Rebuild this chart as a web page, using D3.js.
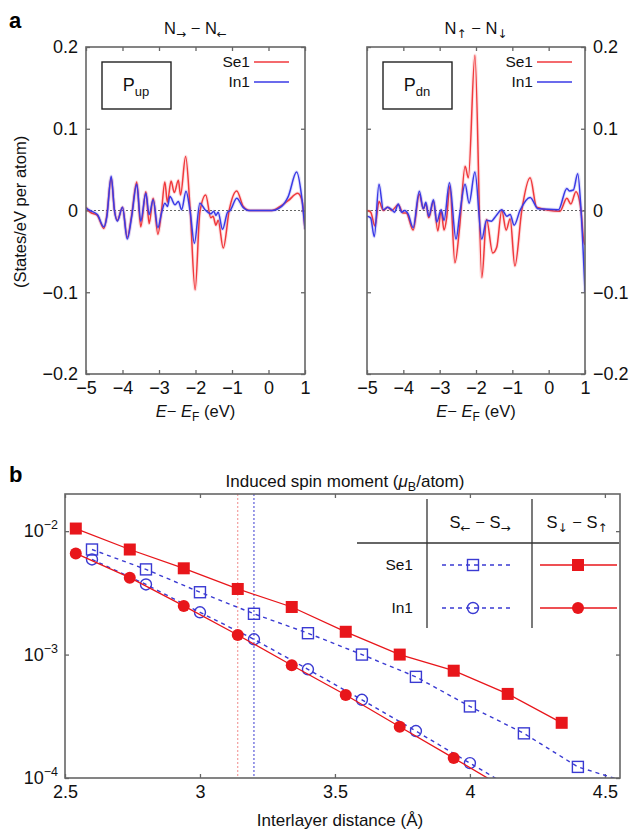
<!DOCTYPE html>
<html>
<head>
<meta charset="utf-8">
<script src="https://cdn.jsdelivr.net/npm/d3@7"></script>
<style>
  body { margin: 0; background: #fff; }
  svg { font-family: "Liberation Sans", Arial, sans-serif; }
  .arr { font-family: "DejaVu Sans", sans-serif; }
</style>
</head>
<body>
<svg id="chart" width="630" height="832"></svg>
<script>
// --- panel a : P_up (N→ − N←) ---
const eUpSe1 = [-5.0, -4.89, -4.69, -4.51, -4.43, -4.31, -4.22, -4.14, -4.0, -3.87, -3.75, -3.61, -3.50, -3.36, -3.27, -3.16, -3.03, -2.93, -2.84, -2.77, -2.67, -2.58, -2.47, -2.41, -2.27, -2.15, -2.01, -1.88, -1.72, -1.58, -1.52, -1.44, -1.38, -1.24, -1.07, -0.87, -0.69, -0.51, 0.09, 0.32, 0.54, 0.80, 0.92, 1.0];
const dUpSe1 = [0.004, -0.002, -0.006, -0.022, -0.006, 0.040, 0.0, -0.012, 0.004, -0.033, -0.006, 0.035, -0.020, 0.023, -0.016, 0.015, -0.029, 0.0, 0.035, 0.010, 0.036, 0.022, 0.037, 0.019, 0.066, 0.004, -0.097, -0.002, 0.019, -0.009, -0.007, -0.018, -0.012, -0.046, 0.002, 0.024, 0.005, 0.0, 0.0, 0.005, 0.012, 0.021, 0.012, -0.023];
const eUpIn1 = [-5.0, -4.89, -4.69, -4.51, -4.43, -4.31, -4.22, -4.14, -4.0, -3.87, -3.75, -3.61, -3.50, -3.36, -3.27, -3.16, -3.03, -2.93, -2.84, -2.77, -2.70, -2.56, -2.47, -2.38, -2.26, -2.15, -2.03, -1.88, -1.74, -1.58, -1.50, -1.44, -1.38, -1.26, -1.12, -1.05, -0.87, -0.70, -0.55, 0.09, 0.36, 0.54, 0.77, 0.90, 1.0];
const dUpIn1 = [0.003, 0.0, -0.005, -0.020, -0.008, 0.042, 0.0, -0.013, 0.004, -0.035, -0.008, 0.032, -0.013, 0.021, -0.005, 0.013, -0.021, -0.003, 0.009, 0.005, 0.017, 0.007, 0.011, 0.001, 0.0235, 0.0, -0.040, 0.009, 0.001, -0.004, -0.001, -0.006, -0.002, -0.023, -0.002, 0.0, 0.015, 0.004, 0.0, 0.0, 0.005, 0.017, 0.047, 0.020, -0.023];

// --- panel a : P_dn (N↑ − N↓) ---
const eDnSe1 = [-5.0, -4.90, -4.78, -4.67, -4.55, -4.43, -4.32, -4.14, -4.01, -3.92, -3.73, -3.56, -3.45, -3.38, -3.30, -3.17, -3.05, -2.96, -2.88, -2.81, -2.72, -2.58, -2.45, -2.30, -2.21, -2.03, -1.84, -1.71, -1.54, -1.43, -1.29, -1.17, -1.06, -0.93, -0.74, -0.51, -0.33, 0.31, 0.50, 0.61, 0.75, 0.89, 0.96, 1.0];
const dDnSe1 = [0.0, -0.002, -0.019, 0.011, 0.0, 0.004, 0.0, 0.007, -0.003, -0.003, -0.024, 0.020, 0.002, 0.008, -0.009, 0.011, -0.025, 0.0, -0.024, -0.010, 0.030, -0.064, -0.020, 0.054, 0.040, 0.190, -0.082, -0.011, -0.052, -0.045, 0.0, -0.024, -0.010, -0.068, 0.0, 0.040, 0.004, -0.001, 0.015, 0.008, 0.023, 0.0, -0.036, -0.042];
const eDnIn1 = [-5.0, -4.90, -4.80, -4.67, -4.55, -4.43, -4.32, -4.24, -4.14, -4.05, -3.96, -3.87, -3.73, -3.56, -3.45, -3.38, -3.30, -3.17, -3.08, -2.96, -2.88, -2.73, -2.55, -2.45, -2.30, -2.19, -2.03, -1.84, -1.71, -1.58, -1.44, -1.29, -1.15, -1.06, -0.95, -0.79, -0.51, -0.29, 0.27, 0.50, 0.57, 0.68, 0.80, 0.89, 1.0];
const dDnIn1 = [-0.007, -0.009, -0.032, 0.032, 0.001, 0.004, 0.001, -0.002, 0.008, -0.002, 0.0, -0.004, -0.021, 0.0235, 0.002, 0.010, -0.007, 0.013, -0.014, 0.001, -0.012, 0.034, -0.035, -0.005, 0.032, 0.009, 0.047, -0.035, -0.012, -0.013, -0.006, 0.001, -0.007, -0.005, -0.018, 0.0, 0.016, 0.002, 0.001, 0.027, 0.024, 0.025, 0.045, 0.001, -0.100];

// --- panel b : induced spin moment ---
const distDown = [2.54, 2.74, 2.94, 3.14, 3.34, 3.54, 3.74, 3.94, 4.14, 4.34];
const se1Down = [1.05e-2, 7.1e-3, 5.0e-3, 3.4e-3, 2.43e-3, 1.53e-3, 1.0e-3, 7.4e-4, 4.8e-4, 2.8e-4];
const in1Down = [6.6e-3, 4.2e-3, 2.48e-3, 1.44e-3, 8.2e-4, 4.7e-4, 2.6e-4, 1.45e-4, 8.0e-5];
const distLeft = [2.6, 2.8, 3.0, 3.2, 3.4, 3.6, 3.8, 4.0, 4.2, 4.4, 4.6];
const se1Left = [7.1e-3, 4.9e-3, 3.2e-3, 2.14e-3, 1.49e-3, 1.0e-3, 6.6e-4, 3.8e-4, 2.3e-4, 1.23e-4, 9.0e-5];
const in1Left = [5.9e-3, 3.7e-3, 2.2e-3, 1.33e-3, 7.6e-4, 4.3e-4, 2.4e-4, 1.32e-4, 7.3e-5];
const markerLines = [3.14, 3.2];

const eTicks = [-5, -4, -3, -2, -1, 0, 1];
const dosTicks = [-0.2, -0.1, 0, 0.1, 0.2];
const distTicks = [2.5, 3, 3.5, 4, 4.5];
const momentTicks = [1e-4, 1e-3, 1e-2];

const RED = "#f0393c", BLUE = "#3a3ae6";
const RED_B = "#e8161b", BLUE_B = "#3a3ad2";
const FRAME = "#666";
const FS = 18;

const svg = d3.select("#chart");
const fmtDos = d => d === 0 ? "0" : d3.format(".1f")(d).replace("-", "\u2212");
const fmtE = d => String(d).replace("-", "\u2212");

// N_a − N_b style label with arrow subscripts
function arrowLabel(t, base, a1, a2) {
    t.append("tspan").text(base);
    t.append("tspan").attr("class", "arr").attr("dy", 4).attr("font-size", 12).text(a1);
    t.append("tspan").attr("dy", -4).text(" \u2212 " + base);
    t.append("tspan").attr("class", "arr").attr("dy", 4).attr("font-size", 12).text(a2);
}

function dosPanel(opts) {
    const x = d3.scaleLinear().domain([-5, 1]).range([opts.x0, opts.x1]);
    const y = d3.scaleLinear().domain([-0.2, 0.2]).range([374, 47]);
    const g = svg.append("g");

    // ticks
    g.append("g").attr("transform", `translate(0,${y(-0.2)})`)
        .call(d3.axisBottom(x).tickValues(eTicks).tickSize(-4).tickPadding(7).tickFormat(fmtE));
    g.append("g").attr("transform", `translate(0,${y(0.2)})`)
        .call(d3.axisTop(x).tickValues(eTicks).tickSize(-4).tickFormat(""));
    g.append("g").attr("transform", `translate(${opts.x0},0)`)
        .call(d3.axisLeft(y).tickValues(dosTicks).tickSize(-4).tickPadding(8)
            .tickFormat(opts.labelsRight ? "" : fmtDos));
    g.append("g").attr("transform", `translate(${opts.x1},0)`)
        .call(d3.axisRight(y).tickValues(dosTicks).tickSize(-4).tickPadding(8)
            .tickFormat(opts.labelsRight ? fmtDos : ""));
    g.selectAll(".domain").remove();
    g.selectAll(".tick line").attr("stroke", FRAME).attr("stroke-width", 1.3);
    g.selectAll(".tick text").attr("font-size", FS).attr("fill", "#111")
        .attr("font-family", "Liberation Sans, Arial, sans-serif");

    // zero line
    g.append("line").attr("x1", x(-5)).attr("x2", x(1)).attr("y1", y(0)).attr("y2", y(0))
        .attr("stroke", "#666").attr("stroke-width", 1.2).attr("stroke-dasharray", "2,2");

    const clipId = "clip" + opts.id;
    g.append("clipPath").attr("id", clipId).append("rect")
        .attr("x", x(-5)).attr("y", y(0.2)).attr("width", x(1) - x(-5)).attr("height", y(-0.2) - y(0.2));

    const line = d3.line().x(d => x(d[0])).y(d => y(d[1])).curve(d3.curveMonotoneX);
    const series = [
        { e: opts.eSe1, v: opts.dSe1, color: RED },
        { e: opts.eIn1, v: opts.dIn1, color: BLUE }
    ];
    series.forEach(s => {
        g.append("path").datum(d3.zip(s.e, s.v)).attr("clip-path", `url(#${clipId})`)
            .attr("d", line).attr("fill", "none").attr("stroke", s.color)
            .attr("stroke-opacity", 0.15).attr("stroke-width", 3.5);
        g.append("path").datum(d3.zip(s.e, s.v)).attr("clip-path", `url(#${clipId})`)
            .attr("d", line).attr("fill", "none").attr("stroke", s.color)
            .attr("stroke-width", 1.5).attr("stroke-linejoin", "round");
    });

    // frame
    g.append("rect").attr("x", x(-5)).attr("y", y(0.2))
        .attr("width", x(1) - x(-5)).attr("height", y(-0.2) - y(0.2))
        .attr("fill", "none").attr("stroke", FRAME).attr("stroke-width", 1.6);

    // P box
    g.append("rect").attr("x", opts.x0 + 16).attr("y", 62).attr("width", 69).attr("height", 47)
        .attr("fill", "none").attr("stroke", "#222").attr("stroke-width", 1.4);
    const pt = g.append("text").attr("x", opts.x0 + 50).attr("y", 91).attr("text-anchor", "middle")
        .attr("font-size", 18).attr("fill", "#111");
    pt.append("tspan").text("P");
    pt.append("tspan").attr("dy", 5).attr("font-size", 13).text(opts.sub);

    // legend
    [["Se1", RED, 62], ["In1", BLUE, 82]].forEach(([lab, c, ly]) => {
        g.append("text").attr("x", opts.legX).attr("y", ly + 5).attr("text-anchor", "end")
            .attr("font-size", 15.5).attr("fill", "#111").text(lab);
        g.append("line").attr("x1", opts.legX + 4).attr("x2", opts.legX + 39)
            .attr("y1", ly).attr("y2", ly).attr("stroke", c).attr("stroke-width", 1.5);
    });

    // title
    const t = g.append("text").attr("x", (opts.x0 + opts.x1) / 2).attr("y", 34)
        .attr("text-anchor", "middle").attr("font-size", 16.5).attr("fill", "#111");
    arrowLabel(t, "N", opts.t1, opts.t2);

    // x label
    const xl = g.append("text").attr("x", (opts.x0 + opts.x1) / 2).attr("y", 417)
        .attr("text-anchor", "middle").attr("font-size", 16.5).attr("fill", "#111");
    xl.append("tspan").attr("font-style", "italic").text("E");
    xl.append("tspan").text("\u2212 ");
    xl.append("tspan").attr("font-style", "italic").text("E");
    xl.append("tspan").attr("dy", 4).attr("font-size", 12).text("F");
    xl.append("tspan").attr("dy", -4).text(" (eV)");
}

dosPanel({ id: "up", x0: 86, x1: 305, labelsRight: false, sub: "up", legX: 250,
    t1: "\u2192", t2: "\u2190", eSe1: eUpSe1, dSe1: dUpSe1, eIn1: eUpIn1, dIn1: dUpIn1 });
dosPanel({ id: "dn", x0: 367, x1: 585, labelsRight: true, sub: "dn", legX: 533,
    t1: "\u2191", t2: "\u2193", eSe1: eDnSe1, dSe1: dDnSe1, eIn1: eDnIn1, dIn1: dDnIn1 });

svg.append("text").attr("x", 9).attr("y", 28).attr("font-size", 22).attr("font-weight", "bold").text("a");
svg.append("text").attr("transform", "translate(26,212) rotate(-90)").attr("text-anchor", "middle")
    .attr("font-size", 16.5).attr("fill", "#111").text("(States/eV per atom)");

// ---------------- panel b ----------------
const bx = d3.scaleLinear().domain([2.5, 4.556]).range([65, 620]);
const by = d3.scaleLog().domain([1e-4, 0.02]).range([778, 494]);
const gb = svg.append("g");

gb.append("g").attr("transform", `translate(0,${by(1e-4)})`)
    .call(d3.axisBottom(bx).tickValues(distTicks).tickSize(-4).tickPadding(7).tickFormat(d => String(d)));
gb.append("g").attr("transform", `translate(0,${by(0.02)})`)
    .call(d3.axisTop(bx).tickValues(distTicks).tickSize(-4).tickFormat(""));
gb.append("g").attr("transform", `translate(${bx(2.5)},0)`)
    .call(d3.axisLeft(by).tickValues(momentTicks).tickSize(-4).tickFormat(""));
gb.append("g").attr("transform", `translate(${bx(4.556)},0)`)
    .call(d3.axisRight(by).tickValues(momentTicks).tickSize(-4).tickFormat(""));
gb.selectAll(".domain").remove();
gb.selectAll(".tick line").attr("stroke", FRAME).attr("stroke-width", 1.3);
gb.selectAll(".tick text").attr("font-size", FS).attr("fill", "#111")
    .attr("font-family", "Liberation Sans, Arial, sans-serif");

momentTicks.forEach(v => {
    const t = gb.append("text").attr("x", 58).attr("y", by(v) + 6).attr("text-anchor", "end")
        .attr("font-size", FS).attr("fill", "#111");
    t.append("tspan").text("10");
    t.append("tspan").attr("dy", -8).attr("font-size", 12.5).text("\u2212" + (-Math.log10(v)));
});

gb.append("clipPath").attr("id", "clipb").append("rect")
    .attr("x", bx(2.5)).attr("y", by(0.02)).attr("width", bx(4.556) - bx(2.5)).attr("height", by(1e-4) - by(0.02));

// vertical reference lines
markerLines.forEach((v, i) => {
    gb.append("line").attr("x1", bx(v)).attr("x2", bx(v)).attr("y1", by(0.02)).attr("y2", by(1e-4))
        .attr("stroke", i === 0 ? "#f08a8a" : BLUE_B).attr("stroke-width", 1)
        .attr("stroke-dasharray", "2,2");
});

const lineB = d3.line().x(d => bx(d[0])).y(d => by(d[1]));
const plotB = gb.append("g").attr("clip-path", "url(#clipb)");

function drawMarkers(g, pts, color, shape, filled) {
    pts.forEach(([px, py]) => {
        if (shape === "square") {
            const s = filled ? 12 : 11;
            g.append("rect").attr("x", px - s / 2).attr("y", py - s / 2).attr("width", s).attr("height", s)
                .attr("fill", filled ? color : "none").attr("stroke", color).attr("stroke-width", filled ? 0 : 1.4);
        } else {
            g.append("circle").attr("cx", px).attr("cy", py).attr("r", filled ? 6 : 5.5)
                .attr("fill", filled ? color : "none").attr("stroke", color).attr("stroke-width", filled ? 0 : 1.4);
        }
    });
}
function seriesB(xs, ys, color, dashed, shape, filled) {
    const data = d3.zip(xs, ys);
    plotB.append("path").datum(data).attr("d", lineB).attr("fill", "none")
        .attr("stroke", color).attr("stroke-width", dashed ? 1.4 : 1.3)
        .attr("stroke-dasharray", dashed ? "4,4" : null);
    drawMarkers(plotB, data.map(d => [bx(d[0]), by(d[1])]), color, shape, filled);
}

seriesB(distLeft, se1Left, BLUE_B, true, "square", false);
seriesB(distLeft.slice(0, in1Left.length), in1Left, BLUE_B, true, "circle", false);
seriesB(distDown, se1Down, RED_B, false, "square", true);
seriesB(distDown.slice(0, in1Down.length), in1Down, RED_B, false, "circle", true);

gb.append("rect").attr("x", bx(2.5)).attr("y", by(0.02))
    .attr("width", bx(4.556) - bx(2.5)).attr("height", by(1e-4) - by(0.02))
    .attr("fill", "none").attr("stroke", FRAME).attr("stroke-width", 1.6);

// legend table
const tbl = gb.append("g").attr("stroke", "#333").attr("stroke-width", 1.3);
tbl.append("line").attr("x1", 427).attr("x2", 427).attr("y1", 499).attr("y2", 628);
tbl.append("line").attr("x1", 532).attr("x2", 532).attr("y1", 499).attr("y2", 628);
tbl.append("line").attr("x1", 357).attr("x2", 619).attr("y1", 543).attr("y2", 543);

arrowLabel(gb.append("text").attr("x", 480).attr("y", 528).attr("text-anchor", "middle")
    .attr("font-size", 16.5).attr("fill", "#111"), "S", "\u2190", "\u2192");
arrowLabel(gb.append("text").attr("x", 577).attr("y", 528).attr("text-anchor", "middle")
    .attr("font-size", 16.5).attr("fill", "#111"), "S", "\u2193", "\u2191");

[["Se1", 565, "square"], ["In1", 608, "circle"]].forEach(([lab, ly, shape]) => {
    gb.append("text").attr("x", 413).attr("y", ly + 5).attr("text-anchor", "end")
        .attr("font-size", 15.5).attr("fill", "#111").text(lab);
    gb.append("line").attr("x1", 442).attr("x2", 514).attr("y1", ly).attr("y2", ly)
        .attr("stroke", BLUE_B).attr("stroke-width", 1.4).attr("stroke-dasharray", "4,4");
    drawMarkers(gb, [[473, ly]], BLUE_B, shape, false);
    gb.append("line").attr("x1", 540).attr("x2", 617).attr("y1", ly).attr("y2", ly)
        .attr("stroke", RED_B).attr("stroke-width", 1.3);
    drawMarkers(gb, [[578, ly]], RED_B, shape, true);
});

const tb = svg.append("text").attr("x", 345).attr("y", 487).attr("text-anchor", "middle")
    .attr("font-size", 17).attr("fill", "#111");
tb.append("tspan").text("Induced spin moment (");
tb.append("tspan").attr("font-style", "italic").text("\u03bc");
tb.append("tspan").attr("dy", 4).attr("font-size", 12.5).text("B");
tb.append("tspan").attr("dy", -4).text("/atom)");

svg.append("text").attr("x", 340).attr("y", 826).attr("text-anchor", "middle")
    .attr("font-size", 17).attr("fill", "#111").text("Interlayer distance (\u00c5)");
svg.append("text").attr("x", 9).attr("y", 482).attr("font-size", 22).attr("font-weight", "bold").text("b");
</script>
</body>
</html>
